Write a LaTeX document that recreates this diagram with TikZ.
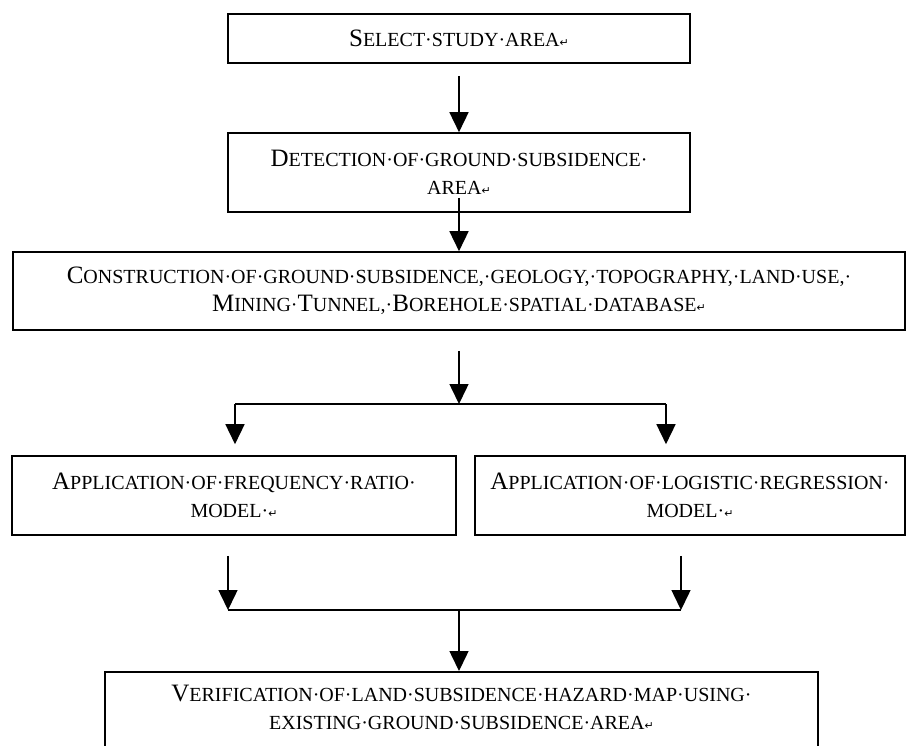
\documentclass[tikz,border=0pt]{standalone}
\usepackage{fontspec}
\setmainfont{Liberation Serif}
\usetikzlibrary{arrows.meta}
\newfontfamily\retfont{DejaVu Sans}
\newcommand{\ret}{{\retfont\fontsize{11}{11}\selectfont\char"21B5}}
\newcommand{\sm}[1]{{\fontsize{20}{28}\selectfont#1}}

\begin{document}
\begin{tikzpicture}[
  x=1pt, y=-1pt,
  box/.style={draw, line width=1.6pt, align=center, inner sep=0pt,
              font=\fontsize{25}{28}\selectfont},
  arr/.style={-{Triangle[length=20pt, width=19pt]}, line width=1.5pt},
  link/.style={line width=1.5pt}
]
  \useasboundingbox (0,0) rectangle (921,745);

  \node[box, minimum width=462pt, minimum height=49pt] (sel) at (459,38.5)
        {S\sm{ELECT·STUDY·AREA}\ret};
  \node[box, minimum width=462pt, minimum height=79pt] (det) at (459,172.5)
        {D\sm{ETECTION·OF·GROUND·SUBSIDENCE·}\\\sm{AREA}\ret};
  \node[box, minimum width=892pt, minimum height=78pt] (cons) at (459,291)
        {C\sm{ONSTRUCTION·OF·GROUND·SUBSIDENCE,·GEOLOGY,·TOPOGRAPHY,·LAND·USE,·}\\
         M\sm{INING·}T\sm{UNNEL,·}B\sm{OREHOLE·SPATIAL·DATABASE}\ret};

  \node[box, minimum width=444pt, minimum height=79pt] (freq) at (234,495.5)
        {A\sm{PPLICATION·OF·FREQUENCY·RATIO·}\\\sm{MODEL·}\ret};
  \node[box, minimum width=430pt, minimum height=79pt] (logi) at (690,495.5)
        {A\sm{PPLICATION·OF·LOGISTIC·REGRESSION·}\\\sm{MODEL·}\ret};

  \node[box, minimum width=713pt, minimum height=100pt, anchor=north] (veri) at (461.5,671)
        {V\sm{ERIFICATION·OF·LAND·SUBSIDENCE·HAZARD·MAP·USING·}\\
         \sm{EXISTING·GROUND·SUBSIDENCE·AREA}\ret\\ \mbox{}};

  % split and join points
  \coordinate (sp)  at (459,404);
  \coordinate (spL) at (235,404);
  \coordinate (spR) at (666,404);
  \coordinate (jL)  at (228,610);
  \coordinate (jC)  at (459,610);
  \coordinate (jR)  at (681,610);

  \draw[arr, shorten <=12pt] (sel) -- (det);
  \draw[arr, shorten <=-15pt] (det) -- (cons);
  \draw[arr, shorten <=20pt] (cons) -- (sp);
  \draw[link] (spL) -- (spR);
  \draw[arr, shorten >=11pt] (spL) -- (spL |- freq.north);
  \draw[arr, shorten >=11pt] (spR) -- (spR |- logi.north);

  \draw[arr, shorten <=20pt] (freq.south -| jL) -- (jL);
  \draw[arr, shorten <=20pt] (logi.south -| jR) -- (jR);
  \draw[link] (jL) -- (jR);
  \draw[arr] (jC) -- (jC |- veri.north);
\end{tikzpicture}
\end{document}
